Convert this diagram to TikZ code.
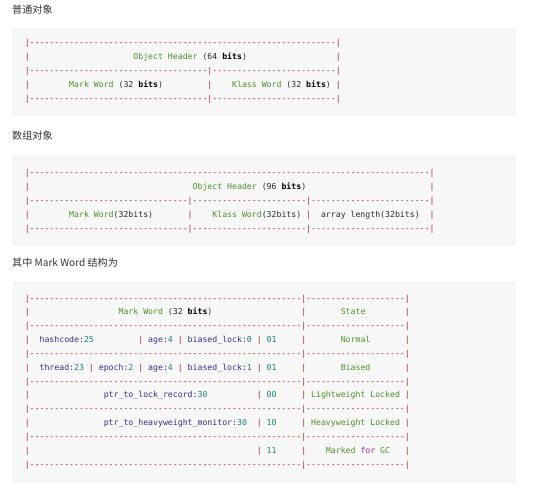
\documentclass[tikz,border=0pt]{standalone}
\usepackage{fontspec}
\setmainfont{Noto Sans}
\setmonofont{DejaVu Sans Mono}
\newfontfamily\cjk{Noto Sans CJK SC}
\usepackage{xcolor}
\usepackage{tikz}
\definecolor{framered}{HTML}{A8232F}
\definecolor{wordgreen}{HTML}{4F8F2A}
\definecolor{fieldblue}{HTML}{33338C}
\definecolor{numteal}{HTML}{1E7F7A}
\definecolor{kwpurple}{HTML}{8E2A8E}
\definecolor{plaindark}{HTML}{2B2B2B}
\definecolor{boxfill}{HTML}{F7F7F7}
\definecolor{boxline}{HTML}{DDDDDD}
\definecolor{headgray}{HTML}{333333}

\newcommand\fp{\textcolor{framered}{|}}
\newcommand\fd[1]{\textcolor{framered}{\foreach \dd in {1,...,#1}{-}}}
\newcommand\gap[1]{\foreach \dd in {1,...,#1}{\phantom{0}}}
\newcommand\gw[1]{\textcolor{wordgreen}{#1}}
\newcommand\fb[1]{\textcolor{fieldblue}{#1}}
\newcommand\nt[1]{\textcolor{numteal}{#1}}
\newcommand\pd[1]{\textcolor{plaindark}{#1}}
\newcommand\bits{\textbf{bits}}

\begin{document}
\begin{tikzpicture}[x=1pt, y=-1pt,
  codeline/.style = {anchor=base west, inner sep=0pt,
    font=\ttfamily\fontsize{8.2}{10}\selectfont\frenchspacing},
  heading/.style = {anchor=west, inner sep=0pt, text=headgray,
    font=\cjk\fontsize{10.1}{12}\selectfont},
  codebox/.style = {fill=boxfill, draw=boxline, rounded corners=2pt}
]
\useasboundingbox (0,0) rectangle (539,489);

% plain object
\node[heading] (plainhead) at (12,10) {普通对象};
\draw[codebox] (13.5,29) rectangle (515,115);
\node[codeline] (plain1) at (24.6,45.6) {\fp\fd{62}\fp};
\node[codeline] (plain2) at (24.6,59.7) {\fp\gap{21}\gw{Object Header} \pd{(64 }\bits\pd{)}\gap{18}\fp};
\node[codeline] (plain3) at (24.6,73.8) {\fp\fd{36}\fp\fd{25}\fp};
\node[codeline] (plain4) at (24.6,87.9) {\fp\gap{8}\gw{Mark Word} \pd{(32 }\bits\pd{)}\gap{9}\fp\gap{4}\gw{Klass Word} \pd{(32 }\bits\pd{)}\gap{1}\fp};
\node[codeline] (plain5) at (24.6,102) {\fp\fd{36}\fp\fd{25}\fp};

% array object
\node[heading] (arrayhead) at (12,136) {数组对象};
\draw[codebox] (13.5,156) rectangle (515,245);
\node[codeline] (array1) at (24.6,176) {\fp\fd{81}\fp};
\node[codeline] (array2) at (24.6,190) {\fp\gap{33}\gw{Object Header} \pd{(96 }\bits\pd{)}\gap{25}\fp};
\node[codeline] (array3) at (24.6,204) {\fp\fd{32}\fp\fd{23}\fp\fd{24}\fp};
\node[codeline] (array4) at (24.6,218) {\fp\gap{8}\gw{Mark Word}\pd{(32bits)}\gap{7}\fp\gap{4}\gw{Klass Word}\pd{(32bits)}\gap{1}\fp\gap{2}\pd{array length(32bits)}\gap{2}\fp};
\node[codeline] (array5) at (24.6,232) {\fp\fd{32}\fp\fd{23}\fp\fd{24}\fp};

% mark word layout
\node[heading] (markhead) at (12,263) {其中 Mark Word 结构为};
\draw[codebox] (13.5,282.5) rectangle (515,482);
\foreach \r in {1,3,...,13}
  \node[codeline] (mark\r) at (24.6,{301.2+13.83*(\r-1)}) {\fp\fd{55}\fp\fd{20}\fp};
\node[codeline] (mark2) at (24.6,315.0) {\fp\gap{18}\gw{Mark Word} \pd{(32 }\bits\pd{)}\gap{18}\fp\gap{7}\gw{State}\gap{8}\fp};
\node[codeline] (mark4) at (24.6,342.7) {\fp\gap{2}\fb{hashcode:}\nt{25}\gap{9}\fp\gap{1}\fb{age:}\nt{4}\gap{1}\fp\gap{1}\fb{biased\_lock:}\nt{0}\gap{1}\fp\gap{1}\nt{01}\gap{5}\fp\gap{7}\gw{Normal}\gap{7}\fp};
\node[codeline] (mark6) at (24.6,370.4) {\fp\gap{2}\fb{thread:}\nt{23}\gap{1}\fp\gap{1}\fb{epoch:}\nt{2}\gap{1}\fp\gap{1}\fb{age:}\nt{4}\gap{1}\fp\gap{1}\fb{biased\_lock:}\nt{1}\gap{1}\fp\gap{1}\nt{01}\gap{5}\fp\gap{7}\gw{Biased}\gap{7}\fp};
\node[codeline] (mark8) at (24.6,398.0) {\fp\gap{15}\fb{ptr\_to\_lock\_record:}\nt{30}\gap{10}\fp\gap{1}\nt{00}\gap{5}\fp\gap{1}\gw{Lightweight Locked}\gap{1}\fp};
\node[codeline] (mark10) at (24.6,425.7) {\fp\gap{15}\fb{ptr\_to\_heavyweight\_monitor:}\nt{30}\gap{2}\fp\gap{1}\nt{10}\gap{5}\fp\gap{1}\gw{Heavyweight Locked}\gap{1}\fp};
\node[codeline] (mark12) at (24.6,453.3) {\fp\gap{46}\fp\gap{1}\nt{11}\gap{5}\fp\gap{4}\gw{Marked} \textcolor{kwpurple}{for} \gw{GC}\gap{3}\fp};
\end{tikzpicture}
\end{document}
